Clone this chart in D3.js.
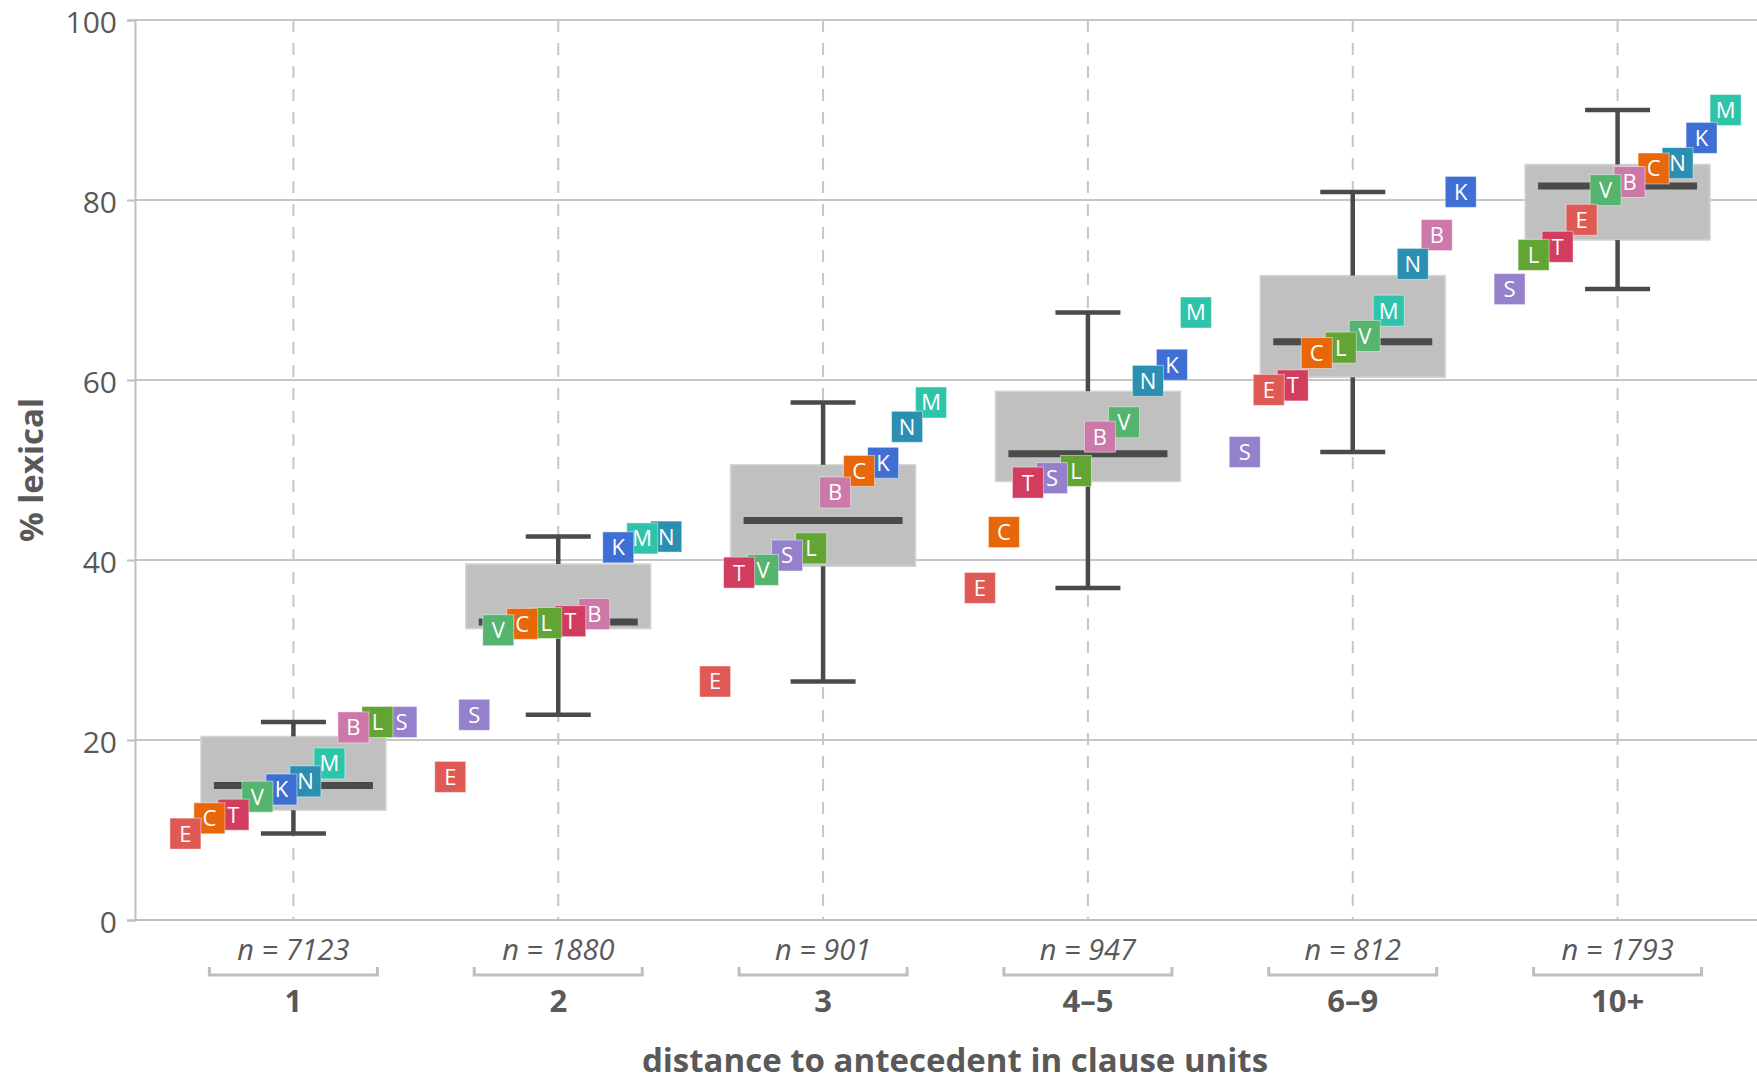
<!DOCTYPE html>
<html>
<head>
<meta charset="utf-8">
<script src="https://cdn.jsdelivr.net/npm/d3@7"></script>
<style>
  body { margin: 0; background: #fff; }
  svg { display: block; font-family: "Open Sans", sans-serif; }
</style>
</head>
<body>
<div class="chart"></div>
<script>
const w = 1757;
const h = 1083;

// distance bins and counts
const categories = ["1", "2", "3", "4–5", "6–9", "10+"];
const nCounts = [7123, 1880, 901, 947, 812, 1793];

// languages, colours, % lexical per bin
const languages = ["B", "C", "E", "K", "L", "M", "N", "S", "T", "V"];
const langColors = ["#cc78a8", "#e8670a", "#e05a55", "#3f6fd4", "#62a535",
                    "#2ec4aa", "#2a8fb0", "#9580cc", "#d23c5f", "#55b46e"];
const valB = [21.4, 34.0, 47.5, 53.7, 76.1, 82.0];
const valC = [11.3, 32.9, 49.9, 43.1, 63.0, 83.5];
const valE = [9.6, 15.9, 26.5, 36.9, 58.9, 77.8];
const valK = [14.5, 41.4, 50.8, 61.7, 80.9, 86.9];
const valL = [22.0, 33.0, 41.3, 49.9, 63.6, 73.9];
const valM = [17.4, 42.4, 57.5, 67.5, 67.7, 90.0];
const valN = [15.4, 42.6, 54.8, 59.9, 72.9, 84.1];
const valS = [22.0, 22.8, 40.5, 49.1, 52.0, 70.1];
const valT = [11.7, 33.2, 38.6, 48.6, 59.4, 74.8];
const valV = [13.7, 32.2, 38.9, 55.3, 64.9, 81.1];
const values = [valB, valC, valE, valK, valL, valM, valN, valS, valT, valV];

const yTicks = [0, 20, 40, 60, 80, 100];

const mLeft = 135, mTop = 20, mBottom = 920;

const svg = d3.select('.chart').append('svg')
    .attr('width', w)
    .attr('height', h);

const x = d3.scaleBand()
    .domain(categories)
    .range([161, 1750]);

const y = d3.scaleLinear()
    .domain([0, 100])
    .range([mBottom, mTop]);

const cx = c => x(c) + x.bandwidth() / 2;

//horizontal grid
svg.append('g')
    .selectAll('line')
    .data(yTicks)
    .enter().append('line')
    .attr('x1', mLeft).attr('x2', w)
    .attr('y1', d => y(d)).attr('y2', d => y(d))
    .style('stroke', '#c6c6c6')
    .style('stroke-width', 2);

//vertical dashed lines
svg.append('g')
    .selectAll('line')
    .data(categories)
    .enter().append('line')
    .attr('x1', cx).attr('x2', cx)
    .attr('y1', mTop).attr('y2', mBottom)
    .style('stroke', '#c6c6c6')
    .style('stroke-width', 2)
    .style('stroke-dasharray', '12,11');

//y axis
const yAxis = svg.append('g')
    .attr('transform', 'translate(' + mLeft + ',0)')
    .call(d3.axisLeft(y).tickValues(yTicks).tickSize(8).tickPadding(10));
yAxis.select('.domain').style('stroke', '#bfbfbf').style('stroke-width', 2);
yAxis.selectAll('.tick line').style('stroke', '#bfbfbf').style('stroke-width', 2);
yAxis.selectAll('.tick text')
    .attr('dy', '0.41em')
    .style('font-family', '"Open Sans", sans-serif')
    .style('font-size', '30px')
    .style('fill', '#595959');

//x axis line
svg.append('line')
    .attr('x1', mLeft).attr('x2', w)
    .attr('y1', mBottom).attr('y2', mBottom)
    .style('stroke', '#bfbfbf')
    .style('stroke-width', 2);

// box stats per bin (tukey whiskers)
const stats = categories.map((c, i) => {
    const v = values.map(s => s[i]).sort(d3.ascending);
    const q1 = d3.quantile(v, 0.25), q3 = d3.quantile(v, 0.75);
    const iqr = q3 - q1;
    return {
        cat: c,
        q1: q1,
        med: d3.quantile(v, 0.5),
        q3: q3,
        lo: d3.min(v.filter(d => d >= q1 - 1.5 * iqr)),
        hi: d3.max(v.filter(d => d <= q3 + 1.5 * iqr))
    };
});

const boxW = 185, medW = 159, capW = 65;
const boxes = svg.append('g');

boxes.selectAll('.box')
    .data(stats)
    .enter().append('rect')
    .attr('class', 'box')
    .attr('x', d => cx(d.cat) - boxW / 2)
    .attr('width', boxW)
    .attr('y', d => y(d.q3))
    .attr('height', d => y(d.q1) - y(d.q3))
    .style('fill', '#c0c0c0')
    .style('stroke', '#d4d4d4')
    .style('stroke-width', 1.5);

const whisk = boxes.selectAll('.whisk')
    .data(stats)
    .enter().append('g')
    .style('stroke', '#4a4a4a')
    .style('stroke-width', 4.5);
whisk.append('line')
    .attr('x1', d => cx(d.cat)).attr('x2', d => cx(d.cat))
    .attr('y1', d => y(d.hi)).attr('y2', d => y(d.q3));
whisk.append('line')
    .attr('x1', d => cx(d.cat)).attr('x2', d => cx(d.cat))
    .attr('y1', d => y(d.q1)).attr('y2', d => y(d.lo));
whisk.append('line')
    .attr('x1', d => cx(d.cat) - capW / 2).attr('x2', d => cx(d.cat) + capW / 2)
    .attr('y1', d => y(d.hi)).attr('y2', d => y(d.hi));
whisk.append('line')
    .attr('x1', d => cx(d.cat) - capW / 2).attr('x2', d => cx(d.cat) + capW / 2)
    .attr('y1', d => y(d.lo)).attr('y2', d => y(d.lo));

boxes.selectAll('.med')
    .data(stats)
    .enter().append('line')
    .attr('x1', d => cx(d.cat) - medW / 2).attr('x2', d => cx(d.cat) + medW / 2)
    .attr('y1', d => y(d.med)).attr('y2', d => y(d.med))
    .style('stroke', '#4a4a4a')
    .style('stroke-width', 7);

//language squares, spread by rank inside each bin
const step = 24, sq = 31;
const points = [];
categories.forEach((c, i) => {
    const order = d3.range(languages.length)
        .sort((a, b) => d3.ascending(values[a][i], values[b][i]));
    order.forEach((li, rank) => {
        points.push({
            lang: languages[li],
            color: langColors[li],
            x: cx(c) + (rank - (languages.length - 1) / 2) * step,
            v: values[li][i],
            rank: rank
        });
    });
});
points.sort((a, b) => b.rank - a.rank);

const pts = svg.append('g')
    .selectAll('g')
    .data(points)
    .enter().append('g')
    .attr('transform', d => 'translate(' + d.x + ',' + y(d.v) + ')');
pts.append('rect')
    .attr('x', -sq / 2).attr('y', -sq / 2)
    .attr('width', sq).attr('height', sq)
    .style('fill', d => d.color)
    .style('stroke', 'rgba(255,255,255,0.45)')
    .style('stroke-width', 1);
pts.append('text')
    .attr('text-anchor', 'middle')
    .attr('dy', '0.36em')
    .style('font-size', '22px')
    .style('fill', '#fff')
    .text(d => d.lang);

//n labels, brackets, category labels
const lab = svg.append('g')
    .selectAll('g')
    .data(categories)
    .enter().append('g')
    .attr('transform', c => 'translate(' + cx(c) + ',0)');
lab.append('text')
    .attr('y', 960)
    .attr('text-anchor', 'middle')
    .style('font-size', '29px')
    .style('font-style', 'italic')
    .style('fill', '#595959')
    .text((c, i) => 'n = ' + nCounts[i]);
lab.append('path')
    .attr('d', 'M-84,967V975H84V967')
    .style('fill', 'none')
    .style('stroke', '#bfbfbf')
    .style('stroke-width', 3);
lab.append('text')
    .attr('y', 1012)
    .attr('text-anchor', 'middle')
    .style('font-size', '31px')
    .style('font-weight', 'bold')
    .style('fill', '#595959')
    .text(c => c);

//axis titles
svg.append('text')
    .attr('x', 955).attr('y', 1072)
    .attr('text-anchor', 'middle')
    .style('font-size', '33px')
    .style('font-weight', 'bold')
    .style('fill', '#595959')
    .text('distance to antecedent in clause units');

svg.append('text')
    .attr('transform', 'translate(43,470) rotate(-90)')
    .attr('text-anchor', 'middle')
    .style('font-size', '33px')
    .style('font-weight', 'bold')
    .style('fill', '#595959')
    .text('% lexical');
</script>
</body>
</html>
